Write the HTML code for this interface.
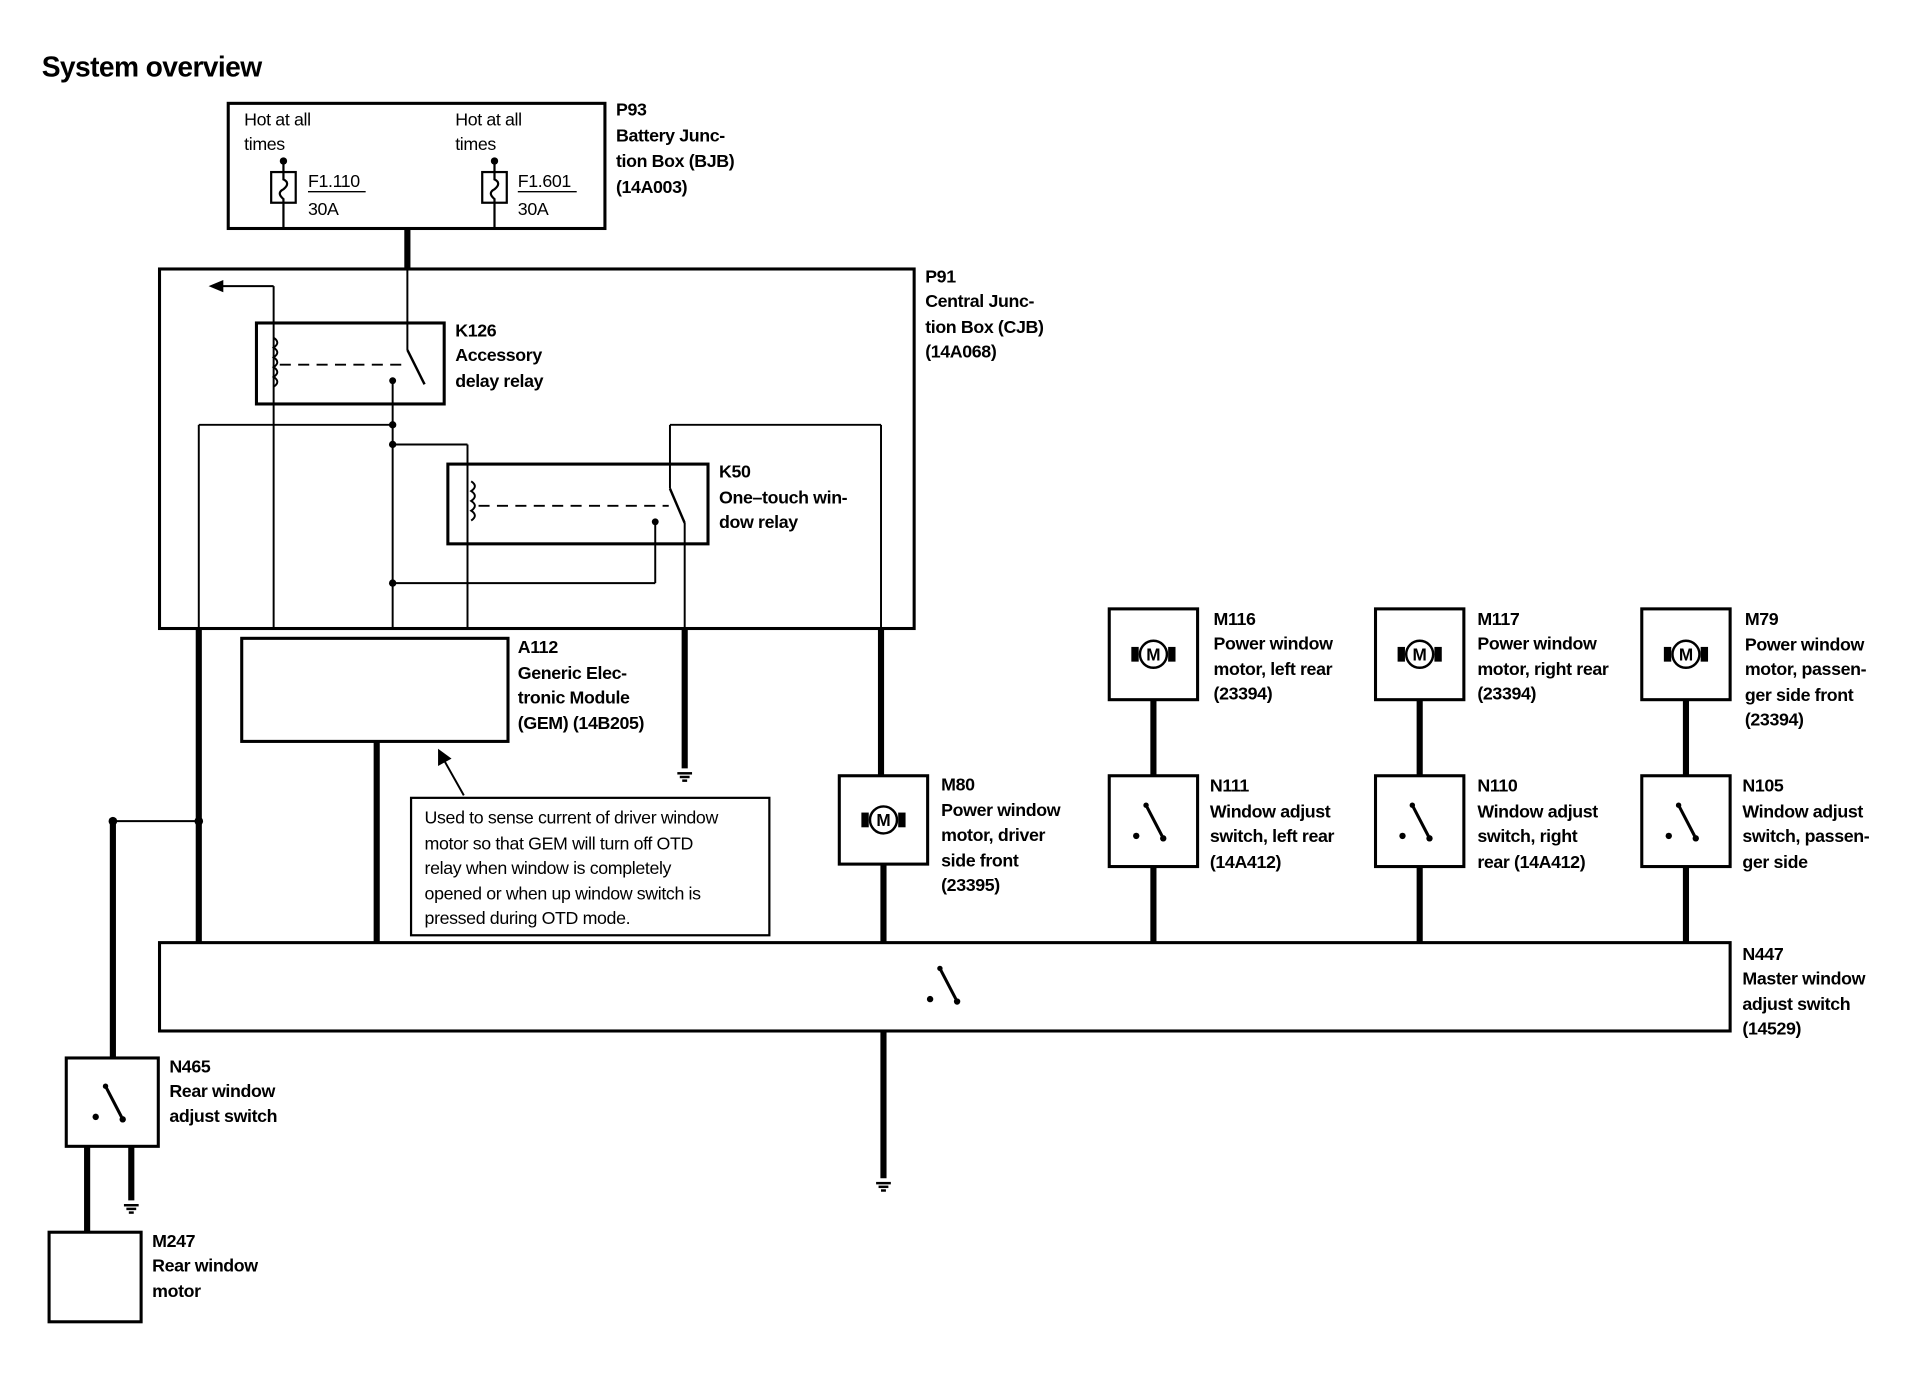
<!DOCTYPE html>
<html><head><meta charset="utf-8"><style>
html,body{margin:0;padding:0;background:#fff}
svg{display:block}
text{font-family:"Liberation Sans",Arial,sans-serif;fill:#000}
.b{font-weight:bold;font-size:14.5px;letter-spacing:-0.3px}
.r{font-size:14.5px;letter-spacing:-0.3px}
</style></head><body>
<svg width="1924" height="1392" viewBox="0 0 1568 1134" xmlns="http://www.w3.org/2000/svg">
<defs>
<g id="mot"><circle r="11" fill="none" stroke="#000" stroke-width="2"/><text x="0" y="5" text-anchor="middle" style="font-size:14px;font-weight:bold">M</text><rect x="-18" y="-6" width="6" height="12" fill="#000"/><rect x="12" y="-6" width="6" height="12" fill="#000"/></g>
<g id="sw"><circle cx="-14" cy="12" r="2.6" fill="#000"/><circle cx="-6" cy="-13" r="2.2" fill="#000"/><line x1="-6" y1="-13" x2="7" y2="12" stroke="#000" stroke-width="2.5"/><circle cx="8" cy="14" r="2.6" fill="#000"/></g>
<g id="gnd"><line x1="-6" y1="0" x2="6" y2="0" stroke="#000" stroke-width="2"/><line x1="-4" y1="3" x2="4" y2="3" stroke="#000" stroke-width="2"/><line x1="-2" y1="6" x2="2" y2="6" stroke="#000" stroke-width="2"/></g>
</defs>
<text x="34" y="62" style="font-weight:bold;font-size:23px;letter-spacing:-0.5px">System overview</text>

<g fill="none" stroke="#000" stroke-width="2.5">
<rect x="186" y="84" width="307" height="102"/>
<rect x="130" y="219" width="615" height="293"/>
<rect x="209" y="263" width="153" height="66"/>
<rect x="365" y="378" width="212" height="65"/>
<rect x="197" y="520" width="217" height="84"/>
<rect x="335" y="650" width="292" height="112" stroke-width="1.8"/>
<rect x="684" y="632" width="72" height="72"/>
<rect x="904" y="496" width="72" height="74"/>
<rect x="904" y="632" width="72" height="74"/>
<rect x="1121" y="496" width="72" height="74"/>
<rect x="1121" y="632" width="72" height="74"/>
<rect x="1338" y="496" width="72" height="74"/>
<rect x="1338" y="632" width="72" height="74"/>
<rect x="130" y="768" width="1280" height="72"/>
<rect x="54" y="862" width="75" height="72"/>
<rect x="40" y="1004" width="75" height="73"/>
</g>

<g fill="none" stroke="#000" stroke-width="1.8">
<line x1="231" y1="130" x2="231" y2="186"/><rect x="221" y="140" width="20" height="25" fill="#fff"/>
<path d="M231 140 v6 q6 3 0 8 q-6 3 0 8 v3"/>
<line x1="403" y1="130" x2="403" y2="186"/><rect x="393" y="140" width="20" height="25" fill="#fff"/>
<path d="M403 140 v6 q6 3 0 8 q-6 3 0 8 v3"/>
<line x1="251" y1="156" x2="298" y2="156" stroke-width="1.2"/>
<line x1="422" y1="156" x2="470" y2="156" stroke-width="1.2"/>
</g>
<circle cx="231" cy="131" r="3" fill="#000"/><circle cx="403" cy="131" r="3" fill="#000"/>
<text class="r" x="199" y="102">Hot at all</text><text class="r" x="199" y="122">times</text>
<text class="r" x="371" y="102">Hot at all</text><text class="r" x="371" y="122">times</text>
<text class="r" x="251" y="152">F1.110</text><text class="r" x="251" y="175">30A</text>
<text class="r" x="422" y="152">F1.601</text><text class="r" x="422" y="175">30A</text>
<text class="b" x="502" y="94">P93</text><text class="b" x="502" y="115">Battery Junc-</text><text class="b" x="502" y="136">tion Box (BJB)</text><text class="b" x="502" y="157">(14A003)</text>

<g stroke="#000" stroke-width="5" fill="none">
<line x1="332" y1="186" x2="332" y2="219"/>
<line x1="162" y1="512" x2="162" y2="768"/>
<line x1="558" y1="512" x2="558" y2="626"/>
<line x1="718" y1="512" x2="718" y2="632"/>
<line x1="720" y1="704" x2="720" y2="768"/>
<line x1="307" y1="604" x2="307" y2="768"/>
<line x1="940" y1="570" x2="940" y2="632"/><line x1="940" y1="706" x2="940" y2="768"/>
<line x1="1157" y1="570" x2="1157" y2="632"/><line x1="1157" y1="706" x2="1157" y2="768"/>
<line x1="1374" y1="570" x2="1374" y2="632"/><line x1="1374" y1="706" x2="1374" y2="768"/>
<line x1="720" y1="840" x2="720" y2="960"/>
<line x1="92" y1="669" x2="92" y2="862"/>
<line x1="71" y1="934" x2="71" y2="1004"/>
<line x1="107" y1="934" x2="107" y2="978"/>
</g>
<use href="#gnd" x="558" y="630"/><use href="#gnd" x="720" y="964"/><use href="#gnd" x="107" y="982"/>

<g stroke="#000" stroke-width="1.6" fill="none">
<line x1="223" y1="233" x2="178" y2="233"/>
<line x1="223" y1="233" x2="223" y2="512"/>
<line x1="332" y1="219" x2="332" y2="285"/>
<line x1="332" y1="285" x2="346" y2="313" stroke-width="2"/>
<line x1="320" y1="310" x2="320" y2="512"/>
<line x1="162" y1="346" x2="320" y2="346"/>
<line x1="162" y1="346" x2="162" y2="512"/>
<line x1="320" y1="362" x2="381" y2="362"/>
<line x1="381" y1="362" x2="381" y2="512"/>
<line x1="546" y1="346" x2="718" y2="346"/>
<line x1="718" y1="346" x2="718" y2="512"/>
<line x1="546" y1="346" x2="546" y2="398"/>
<line x1="546" y1="398" x2="558" y2="426" stroke-width="2"/>
<line x1="558" y1="426" x2="558" y2="512"/>
<line x1="534" y1="425" x2="534" y2="475"/>
<line x1="534" y1="475" x2="320" y2="475"/>
<path d="M223 275 q6 4 0 8 q6 4 0 8 q6 4 0 8 q6 4 0 8 q6 4 0 8"/>
<path d="M384 392 q6 4 0 8 q6 4 0 8 q6 4 0 8 q6 4 0 8"/>
<line x1="228" y1="297" x2="330" y2="297" stroke-dasharray="9,6"/>
<line x1="390" y1="412" x2="545" y2="412" stroke-dasharray="9,6"/>
<line x1="92" y1="669" x2="162" y2="669"/>
<line x1="378" y1="648" x2="360" y2="616"/>
</g>
<polygon points="170,233 182,228 182,238" fill="#000"/>
<polygon points="357,610 357,624 368,618" fill="#000"/>
<g fill="#000">
<circle cx="320" cy="310" r="2.8"/><circle cx="320" cy="346" r="3"/><circle cx="320" cy="362" r="3"/><circle cx="320" cy="475" r="3"/>
<circle cx="534" cy="425" r="2.8"/><circle cx="92" cy="669" r="3.5"/><circle cx="162" cy="669" r="3.5"/>
</g>
<text class="b" x="754" y="230">P91</text><text class="b" x="754" y="250">Central Junc-</text><text class="b" x="754" y="271">tion Box (CJB)</text><text class="b" x="754" y="291">(14A068)</text>
<text class="b" x="371" y="274">K126</text><text class="b" x="371" y="294">Accessory</text><text class="b" x="371" y="315">delay relay</text>
<text class="b" x="586" y="389">K50</text><text class="b" x="586" y="410">One–touch win-</text><text class="b" x="586" y="430">dow relay</text>
<text class="b" x="422" y="532">A112</text><text class="b" x="422" y="553">Generic Elec-</text><text class="b" x="422" y="573">tronic Module</text><text class="b" x="422" y="594">(GEM) (14B205)</text>
<text class="r" x="346" y="671">Used to sense current of driver window</text><text class="r" x="346" y="692">motor so that GEM will turn off OTD</text><text class="r" x="346" y="712">relay when window is completely</text><text class="r" x="346" y="733">opened or when up window switch is</text><text class="r" x="346" y="753">pressed during OTD mode.</text>

<use href="#mot" x="720" y="668"/><use href="#mot" x="940" y="533"/><use href="#mot" x="1157" y="533"/><use href="#mot" x="1374" y="533"/>
<use href="#sw" x="940" y="669"/><use href="#sw" x="1157" y="669"/><use href="#sw" x="1374" y="669"/>
<use href="#sw" x="772" y="802"/><use href="#sw" x="92" y="898"/>

<text class="b" x="767" y="644">M80</text><text class="b" x="767" y="665">Power window</text><text class="b" x="767" y="685">motor, driver</text><text class="b" x="767" y="706">side front</text><text class="b" x="767" y="726">(23395)</text>
<text class="b" x="989" y="509">M116</text><text class="b" x="989" y="529">Power window</text><text class="b" x="989" y="550">motor, left rear</text><text class="b" x="989" y="570">(23394)</text>
<text class="b" x="1204" y="509">M117</text><text class="b" x="1204" y="529">Power window</text><text class="b" x="1204" y="550">motor, right rear</text><text class="b" x="1204" y="570">(23394)</text>
<text class="b" x="1422" y="509">M79</text><text class="b" x="1422" y="530">Power window</text><text class="b" x="1422" y="550">motor, passen-</text><text class="b" x="1422" y="571">ger side front</text><text class="b" x="1422" y="591">(23394)</text>
<text class="b" x="986" y="645">N111</text><text class="b" x="986" y="666">Window adjust</text><text class="b" x="986" y="686">switch, left rear</text><text class="b" x="986" y="707">(14A412)</text>
<text class="b" x="1204" y="645">N110</text><text class="b" x="1204" y="666">Window adjust</text><text class="b" x="1204" y="686">switch, right</text><text class="b" x="1204" y="707">rear (14A412)</text>
<text class="b" x="1420" y="645">N105</text><text class="b" x="1420" y="666">Window adjust</text><text class="b" x="1420" y="686">switch, passen-</text><text class="b" x="1420" y="707">ger side</text>
<text class="b" x="1420" y="782">N447</text><text class="b" x="1420" y="802">Master window</text><text class="b" x="1420" y="823">adjust switch</text><text class="b" x="1420" y="843">(14529)</text>
<text class="b" x="138" y="874">N465</text><text class="b" x="138" y="894">Rear window</text><text class="b" x="138" y="914">adjust switch</text>
<text class="b" x="124" y="1016">M247</text><text class="b" x="124" y="1036">Rear window</text><text class="b" x="124" y="1057">motor</text>
</svg>
</body></html>
